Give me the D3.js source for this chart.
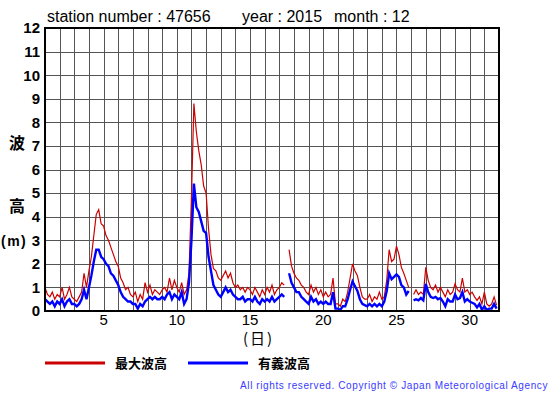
<!DOCTYPE html>
<html lang="ja">
<head>
<meta charset="UTF-8">
<title>wave height 47656 2015-12</title>
<script src="https://d3js.org/d3.v7.min.js"></script>
<style>
  body { margin: 0; background: #fff; }
  svg { display: block; }
  text { font-family: "Liberation Sans", "DejaVu Sans", sans-serif; }
  .jp { font-family: "Noto Sans CJK JP", sans-serif; }
</style>
</head>
<body>
<svg width="555" height="395"></svg>
<script>
// samples, 6 per day (every 4 h), starting day 1 00:00
const maxWave = [
  1.0, 0.7, 0.6, 0.8, 0.5, 0.7,
  0.6, 1.0, 0.5, 0.7, 1.0, 0.6,
  0.5, 0.4, 0.6, 0.8, 1.6, 1.0,
  1.7, 2.3, 3.2, 4.1, 4.3, 3.7,
  3.6, 3.2, 3.0, 2.7, 2.4, 2.1,
  1.9, 1.4, 1.2, 0.9, 1.0, 0.7,
  0.6, 0.8, 0.4, 0.7, 0.5, 1.2,
  0.8, 1.1, 0.7, 0.9, 0.8, 0.7,
  0.9, 1.0, 0.8, 1.4, 0.9, 1.3,
  1.0, 0.8, 1.2, 0.7, 0.9, 1.6,
  4.8, 8.8, 7.6, 6.8, 6.2, 5.3,
  5.0, 3.5, 2.4, 1.8, 1.7, 1.4,
  1.3, 1.5, 1.7, 1.4, 1.6, 1.2,
  1.0, 1.1, 0.9, 1.0, 0.8, 1.0,
  0.9, 0.7, 1.0, 0.8, 0.6, 0.9,
  0.7, 1.0, 0.8, 1.1, 0.7, 0.9,
  1.0, 1.2, 1.1, null, 2.6, 1.9,
  1.6, 1.4, 1.3, 1.1, 1.0, 0.8,
  0.7, 1.1, 0.8, 1.0, 0.7, 0.9,
  0.6, 0.8, 0.6, 0.7, 1.4, 0.3,
  0.3, 0.2, 0.5, 0.4, 0.8, 1.4,
  2.0, 1.7, 1.5, 1.0, 0.6, 0.5,
  0.5, 0.7, 0.4, 0.6, 0.5, 0.8,
  0.5, 0.6, 1.3, 2.6, 2.1, 2.2,
  2.75, 2.4, 1.85, 1.6, 1.3, 1.0,
  null, 0.7, 0.9, 0.7, 0.8, 0.7,
  1.85, 1.3, 1.0, 0.9, 1.1, 0.8,
  1.0, 0.8, 0.6, 0.9, 0.7, 0.8,
  1.15, 0.9, 0.8, 1.4, 0.8, 0.9,
  0.7, 0.8, 0.6, 0.45, 0.6, 0.3,
  0.8, 0.3, 0.2, 0.3, 0.6, 0.25
];
const sigWave = [
  0.5, 0.4, 0.3, 0.4, 0.2, 0.4,
  0.3, 0.5, 0.2, 0.4, 0.5, 0.3,
  0.3, 0.2, 0.3, 0.5, 0.9, 0.5,
  1.0, 1.5, 2.1, 2.6, 2.6, 2.3,
  2.2, 2.0, 1.9, 1.6, 1.5, 1.3,
  1.1, 0.8, 0.6, 0.5, 0.4, 0.4,
  0.3, 0.3, 0.1, 0.3, 0.2, 0.4,
  0.5, 0.6, 0.5, 0.6, 0.5, 0.5,
  0.6, 0.5, 0.7, 0.8, 0.5, 0.7,
  0.6, 0.5, 0.8, 0.3, 0.5, 1.2,
  3.0, 5.4, 4.4, 4.2, 3.8, 3.4,
  3.3, 2.3, 1.7, 1.1, 0.9, 0.7,
  0.6, 0.8, 1.0, 0.8, 0.9, 0.7,
  0.6, 0.5, 0.5, 0.6, 0.4, 0.5,
  0.5, 0.4, 0.6, 0.4, 0.3, 0.5,
  0.4, 0.5, 0.4, 0.6, 0.4, 0.5,
  0.6, 0.7, 0.6, null, 1.6, 1.2,
  1.0, 0.8, 0.8, 0.6, 0.5, 0.4,
  0.3, 0.6, 0.4, 0.5, 0.3, 0.4,
  0.3, 0.4, 0.3, 0.3, 0.8, 0.1,
  0.1, 0.05, 0.2, 0.2, 0.5, 0.9,
  1.25, 1.05, 0.85, 0.5, 0.3, 0.25,
  0.2, 0.3, 0.2, 0.3, 0.2, 0.3,
  0.2, 0.4, 0.85, 1.6, 1.35, 1.45,
  1.55, 1.45, 1.1, 1.0, 0.7, 0.85,
  null, 0.45, 0.5, 0.45, 0.55, 0.45,
  1.15, 0.8, 0.6, 0.55, 0.6, 0.5,
  0.55, 0.4, 0.2, 0.5, 0.4, 0.4,
  0.7, 0.5, 0.55, 0.8, 0.4, 0.5,
  0.4, 0.35, 0.3, 0.15, 0.3, 0.05,
  0.2, 0.05, 0.1, 0.1, 0.3, 0.1
];
const samplesPerDay = 6;
const xTicks = [5, 10, 15, 20, 25, 30];
const yTicks = [0, 1, 2, 3, 4, 5, 6, 7, 8, 9, 10, 11, 12];
const legendNames = ["最大波高", "有義波高"];

const svg = d3.select("svg");
const plotL = 45, plotR = 499, plotT = 28, plotB = 311;

const x = d3.scaleLinear().domain([1, 32]).range([plotL, plotR]);
const y = d3.scaleLinear().domain([0, 12]).range([plotB, plotT]);

// grid
const grid = svg.append("g").attr("stroke", "#555").attr("stroke-width", 1).attr("shape-rendering", "crispEdges");
grid.selectAll("line.v").data(d3.range(2, 32)).enter().append("line")
  .attr("x1", d => Math.round(x(d)) + 0.5).attr("x2", d => Math.round(x(d)) + 0.5)
  .attr("y1", plotT).attr("y2", plotB);
grid.selectAll("line.h").data(yTicks.slice(1, -1)).enter().append("line")
  .attr("x1", plotL).attr("x2", plotR)
  .attr("y1", d => Math.round(y(d)) + 0.5).attr("y2", d => Math.round(y(d)) + 0.5);

// series
const toPoints = arr => arr.map((v, i) => ({ t: 1 + i / samplesPerDay, v: v }));
const line = d3.line().defined(d => d.v != null).x(d => x(d.t)).y(d => y(d.v));

svg.append("path").datum(toPoints(maxWave))
  .attr("fill", "none").attr("stroke", "#cc0000").attr("stroke-width", 1.2)
  .attr("d", line);
svg.append("path").datum(toPoints(sigWave))
  .attr("fill", "none").attr("stroke", "#0000ff").attr("stroke-width", 2.4)
  .attr("d", line);

// frame
svg.append("rect").attr("x", plotL).attr("y", plotT).attr("width", plotR - plotL).attr("height", plotB - plotT)
  .attr("fill", "none").attr("stroke", "#000").attr("stroke-width", 2);

// axes labels
svg.append("g").selectAll("text").data(yTicks).enter().append("text")
  .attr("x", 40).attr("y", d => y(d)).attr("dy", "0.36em")
  .attr("text-anchor", "end").attr("font-size", 15).attr("font-weight", "bold")
  .text(d => d);

svg.append("g").selectAll("text").data(xTicks).enter().append("text")
  .attr("x", d => x(d)).attr("y", 320).attr("dy", "0.36em")
  .attr("text-anchor", "middle").attr("font-size", 15)
  .text(d => d);

svg.append("text").attr("class", "jp").attr("x", 17).attr("y", 143).attr("dy", "0.36em")
  .attr("text-anchor", "middle").attr("font-size", 16).attr("font-weight", "bold").text("波");
svg.append("text").attr("class", "jp").attr("x", 17).attr("y", 206).attr("dy", "0.36em")
  .attr("text-anchor", "middle").attr("font-size", 16).attr("font-weight", "bold").text("高");
svg.append("text").attr("x", 1).attr("y", 241).attr("dy", "0.36em")
  .attr("font-size", 14).attr("font-weight", "bold").attr("letter-spacing", 1.5).text("(m)");
svg.append("text").attr("class", "jp").attr("x", 243).attr("y", 339).attr("dy", "0.36em")
  .attr("font-size", 15).attr("letter-spacing", 2).text("(日)");

// title
const title = svg.append("g").attr("font-size", 16);
title.append("text").attr("x", 47).attr("y", 22).text("station number : 47656");
title.append("text").attr("x", 242).attr("y", 22).text("year : 2015");
title.append("text").attr("x", 334).attr("y", 22).text("month : 12");

// legend
const legendColors = ["#cc0000", "#0000ff"];
const legend = svg.append("g").selectAll("g").data(legendNames).enter().append("g")
  .attr("transform", (d, i) => `translate(${45 + i * 143},363)`);
legend.append("line").attr("x1", 0).attr("x2", 60).attr("y1", 0).attr("y2", 0)
  .attr("stroke", (d, i) => legendColors[i]).attr("stroke-width", 3);
legend.append("text").attr("class", "jp").attr("x", 70).attr("dy", "0.36em")
  .attr("font-size", 13).attr("font-weight", "bold").text(d => d);

svg.append("text").attr("x", 548).attr("y", 389).attr("text-anchor", "end")
  .attr("font-size", 10).attr("letter-spacing", 0.6).attr("fill", "#3a3aff")
  .text("All rights reserved. Copyright © Japan Meteorological Agency");
</script>
</body>
</html>
